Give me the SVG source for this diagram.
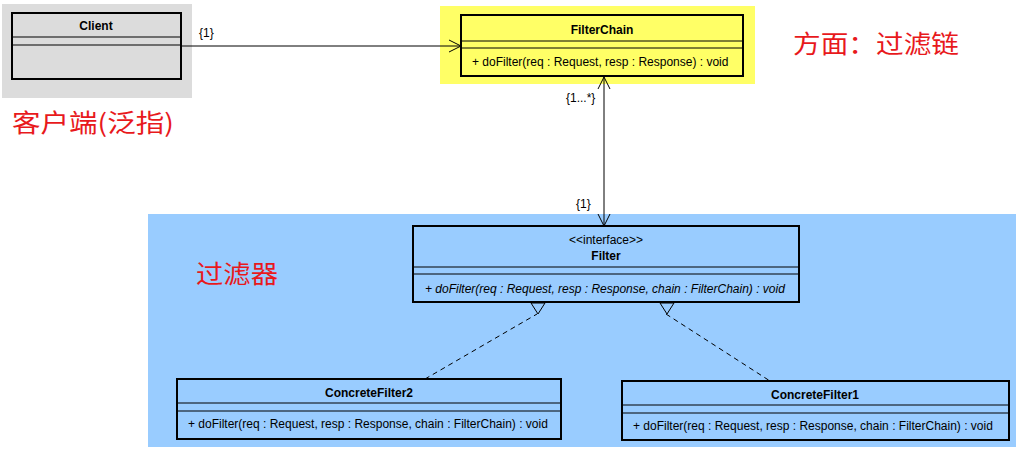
<svg xmlns="http://www.w3.org/2000/svg" width="1021" height="454" viewBox="0 0 1021 454">
<style>
.box{fill:none;stroke:#000;stroke-width:2}
.sep{stroke:#000;stroke-width:1}
.t{font-family:"Liberation Sans",Arial,sans-serif;font-size:12px;fill:#000}
.b{font-weight:bold;text-anchor:middle}
.c{text-anchor:middle}
.i{font-style:italic}
.red{font-family:"Noto Sans CJK SC","Liberation Sans",sans-serif;font-size:25px;fill:#e8191c}
.ln{stroke:#000;stroke-width:1;fill:none}
.dash{stroke:#000;stroke-width:1;fill:none;stroke-dasharray:5,4}
</style>
<rect x="0" y="0" width="1021" height="454" fill="#fff"/>
<rect x="2" y="4" width="190" height="94" fill="#dcdcdc"/>
<rect x="440" y="6" width="315" height="78" fill="#ffff66"/>
<rect x="148" y="214" width="868" height="233" fill="#99ccff"/>
<text class="red" x="12" y="132" textLength="162" lengthAdjust="spacingAndGlyphs">客户端(泛指)</text>
<text class="red" x="793" y="53" textLength="166" lengthAdjust="spacingAndGlyphs">方面：过滤链</text>
<text class="red" x="196" y="283" textLength="82" lengthAdjust="spacingAndGlyphs">过滤器</text>
<g id="connectors">
<line class="ln" x1="181" y1="46" x2="461" y2="46"/>
<polyline class="ln" points="449,40 461,46 449,52"/>
<text class="t" x="199" y="37">{1}</text>
<line class="ln" x1="604" y1="77" x2="604" y2="226"/>
<polyline class="ln" points="598,89 604,77 610,89"/>
<polyline class="ln" points="598,214 604,226 610,214"/>
<text class="t" x="566" y="102">{1...*}</text>
<text class="t" x="576" y="208">{1}</text>
<line class="dash" x1="425" y1="379" x2="537" y2="314"/>
<polygon points="531,303 545,303 538,314" fill="none" stroke="#000" stroke-width="1"/>
<line class="dash" x1="666" y1="314" x2="770" y2="381"/>
<polygon points="660,303 674,303 667,314" fill="none" stroke="#000" stroke-width="1"/>
</g>
<g id="client">
<rect x="12" y="13" width="169" height="66" fill="#dcdcdc" class="box"/>
<line class="sep" x1="12" y1="37" x2="181" y2="37"/>
<line class="sep" x1="12" y1="45" x2="181" y2="45"/>
<text class="t b" x="96" y="30">Client</text>
</g>
<g id="filterchain">
<rect x="461" y="15" width="282" height="61" fill="#ffff66" class="box"/>
<line class="sep" x1="461" y1="41" x2="743" y2="41"/>
<line class="sep" x1="461" y1="48" x2="743" y2="48"/>
<text class="t b" x="602" y="34">FilterChain</text>
<text class="t" x="472" y="66">+ doFilter(req : Request, resp : Response) : void</text>
</g>
<g id="filter">
<rect x="413" y="226" width="386" height="76" fill="#99ccff" class="box"/>
<line class="sep" x1="413" y1="267" x2="799" y2="267"/>
<line class="sep" x1="413" y1="274" x2="799" y2="274"/>
<text class="t c" x="606" y="244">&lt;&lt;interface&gt;&gt;</text>
<text class="t b" x="606" y="260">Filter</text>
<text class="t i" x="425" y="293">+ doFilter(req : Request, resp : Response, chain : FilterChain) : void</text>
</g>
<g id="concretefilter2">
<rect x="177" y="379" width="384" height="60" fill="#99ccff" class="box"/>
<line class="sep" x1="177" y1="403" x2="561" y2="403"/>
<line class="sep" x1="177" y1="411" x2="561" y2="411"/>
<text class="t b" x="369" y="397">ConcreteFilter2</text>
<text class="t" x="188" y="428">+ doFilter(req : Request, resp : Response, chain : FilterChain) : void</text>
</g>
<g id="concretefilter1">
<rect x="622" y="381" width="387" height="59" fill="#99ccff" class="box"/>
<line class="sep" x1="622" y1="405" x2="1009" y2="405"/>
<line class="sep" x1="622" y1="413" x2="1009" y2="413"/>
<text class="t b" x="815" y="399">ConcreteFilter1</text>
<text class="t" x="633" y="430">+ doFilter(req : Request, resp : Response, chain : FilterChain) : void</text>
</g>
</svg>
